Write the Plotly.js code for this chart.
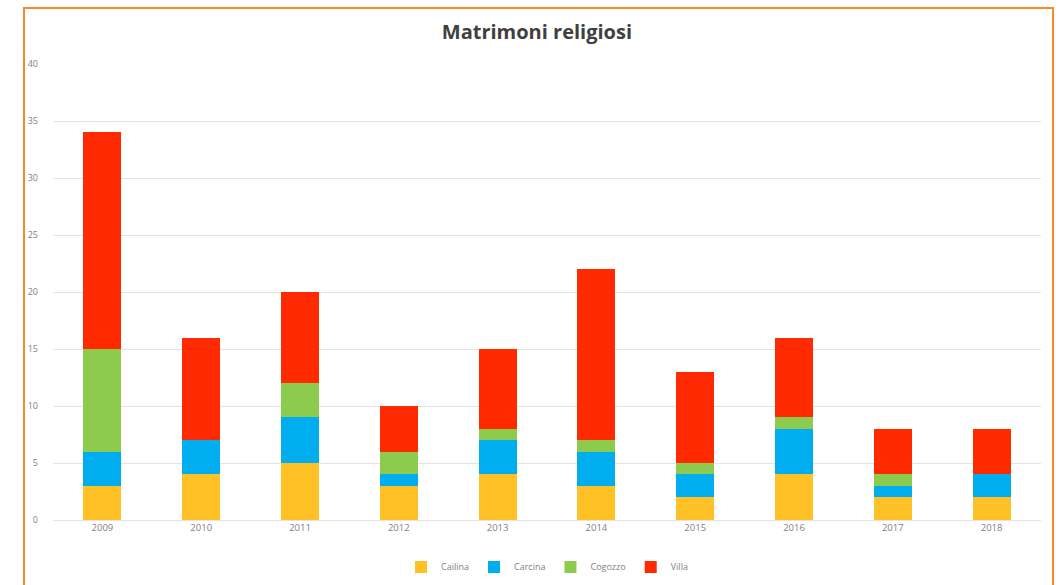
<!DOCTYPE html>
<html><head><meta charset="utf-8">
<script src="https://cdn.plot.ly/plotly-3.0.1.min.js"></script>
<style>
html,body{margin:0;padding:0;background:#fff;}
#wrap{position:relative;width:1059px;height:585px;}
#chart{position:absolute;left:0;top:0;width:1059px;height:585px;}
#frame{position:absolute;left:23px;top:7px;width:1027px;height:600px;border:2px solid #F58A2C;pointer-events:none;}
</style></head>
<body><div id="wrap"><div id="chart"></div><div id="frame"></div></div>
<script>
const years = ['2009','2010','2011','2012','2013','2014','2015','2016','2017','2018'];
const cailina = [3,4,5,3,4,3,2,4,2,2];
const carcina = [3,3,4,1,3,3,2,4,1,2];
const cogozzo = [9,0,3,2,1,1,1,1,1,0];
const villa   = [19,9,8,4,7,15,8,7,4,4];
const seriesNames = ['Cailina','Carcina','Cogozzo','Villa'];
const seriesColors = ['#FFC125','#00AEEF','#8DCB4F','#FF2A00'];
const seriesData = [cailina, carcina, cogozzo, villa];

const traces = seriesData.map((d,i)=>({
  type:'bar', x:years, y:d, name:seriesNames[i],
  marker:{color:seriesColors[i]}, hoverinfo:'x+y+name'
}));

const layout = {
  width:1059, height:585,
  barmode:'stack', bargap:0.615,
  paper_bgcolor:'rgba(0,0,0,0)', plot_bgcolor:'#fff',
  margin:{l:53,r:18,t:64,b:65, autoexpand:false},
  font:{family:'"Open Sans", sans-serif', color:'#7f7f7f', size:9},
  title:{text:'<b>Matrimoni religiosi</b>', x:0.507, xanchor:'center', y:0.945, yanchor:'middle',
         font:{family:'"Open Sans", sans-serif', size:20, color:'#404040'}},
  xaxis:{type:'category', showgrid:false, zeroline:false, showline:false, ticks:'',
         automargin:false, tickfont:{size:9.5,color:'#7f7f7f'}},
  yaxis:{range:[0,40], dtick:5, showgrid:true, gridcolor:'#E4E4E4', gridwidth:1,
         zeroline:true, zerolinecolor:'#E4E4E4', showline:false, ticks:'',
         automargin:false, tickfont:{size:9,color:'#7f7f7f'}, ticklabelstandoff:14},
  legend:{orientation:'h', x:0.5, xanchor:'center', y:-0.103, yanchor:'middle',
          font:{size:9,color:'#7f7f7f'}, traceorder:'normal', itemwidth:30},
  showlegend:true
};
Plotly.newPlot('chart', traces, layout, {displayModeBar:false, staticPlot:true});
</script></body></html>
